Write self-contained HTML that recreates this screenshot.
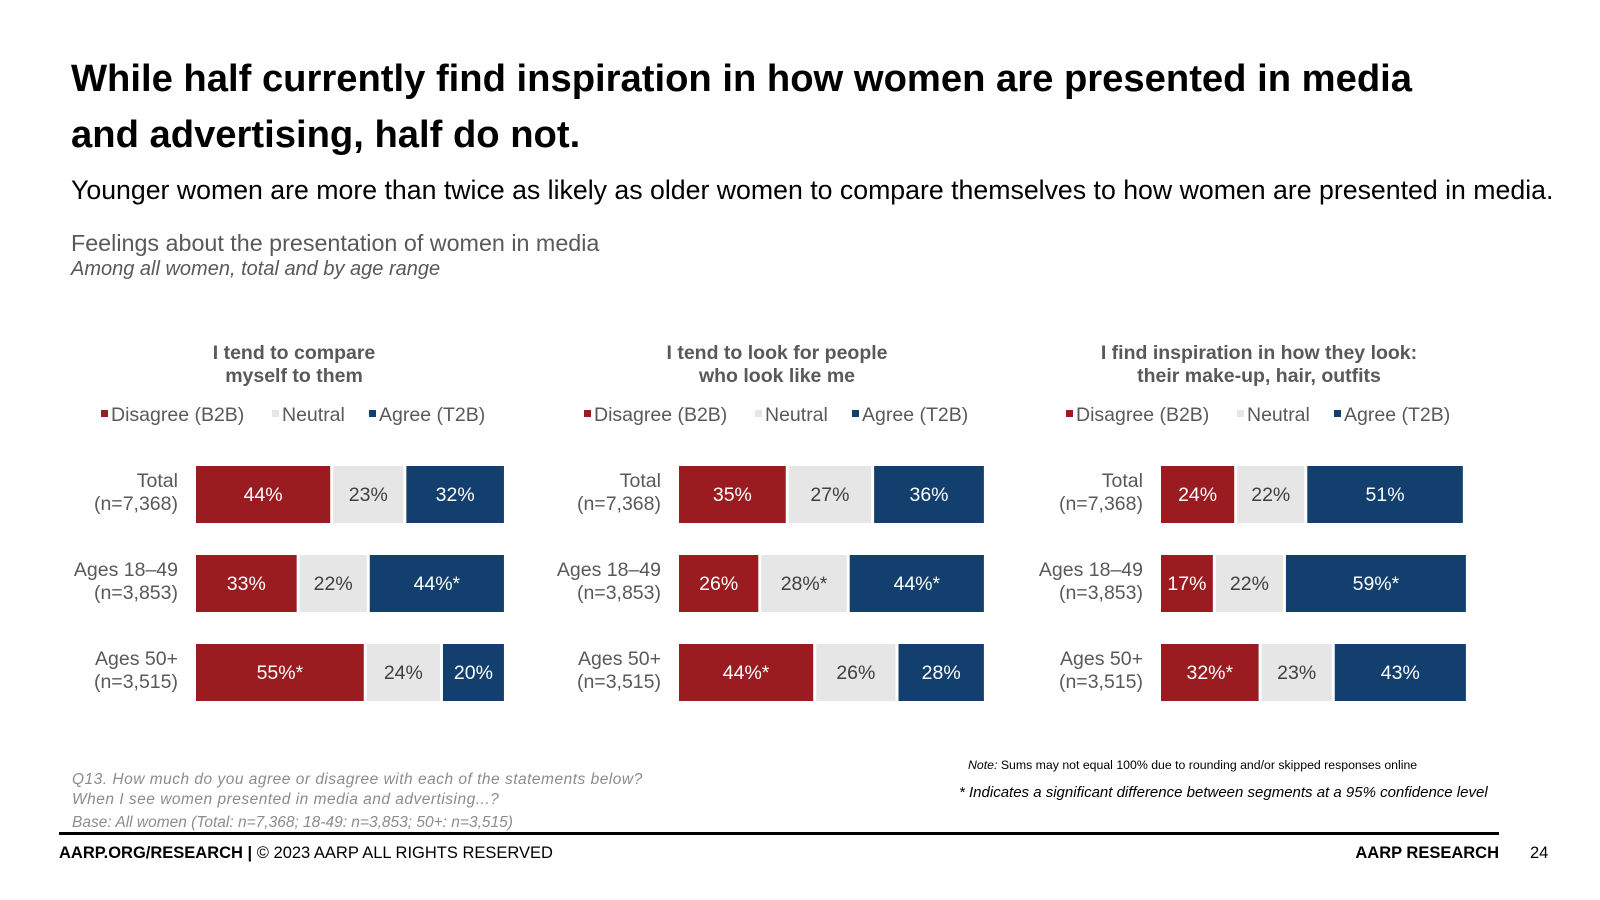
<!DOCTYPE html>
<html><head><meta charset="utf-8"><style>
body{margin:0;width:1600px;height:900px;background:#fff;font-family:"Liberation Sans",sans-serif;position:relative;overflow:hidden}
.a{position:absolute;white-space:nowrap}
</style></head><body>
<div class="a" style="left:71px;top:51px;font-size:38.2px;font-weight:bold;line-height:56px;color:#000">While half currently find inspiration in how women are presented in media<br>and advertising, half do not.</div>
<div class="a" style="left:71px;top:175px;font-size:26.7px;color:#000">Younger women are more than twice as likely as older women to compare themselves to how women are presented in media.</div>
<div class="a" style="left:71px;top:230px;font-size:23.3px;color:#595959">Feelings about the presentation of women in media</div>
<div class="a" style="left:71px;top:258px;font-size:20px;font-style:italic;color:#595959">Among all women, total and by age range</div>
<svg id="c" class="a" style="left:0;top:0" width="1600" height="900"></svg>
<div class="a" style="left:72px;top:770px;font-size:15.5px;font-style:italic;color:#8c8c8c;line-height:20px;letter-spacing:0.5px">Q13. How much do you agree or disagree with each of the statements below?<br>When I see women presented in media and advertising...?</div>
<div class="a" style="left:72px;top:814px;font-size:15.5px;font-style:italic;color:#8c8c8c">Base: All women (Total: n=7,368; 18-49: n=3,853; 50+: n=3,515)</div>
<div class="a" style="left:968px;top:758px;font-size:12.3px;color:#000"><i>Note:</i> Sums may not equal 100% due to rounding and/or skipped responses online</div>
<div class="a" style="left:959px;top:784px;font-size:15px;font-style:italic;color:#000">* Indicates a significant difference between segments at a 95% confidence level</div>
<div class="a" style="left:59px;top:832px;width:1440px;height:3px;background:#000"></div>
<div class="a" style="left:59px;top:844px;font-size:16.5px;color:#000"><b>AARP.ORG/RESEARCH |</b> © 2023 AARP ALL RIGHTS RESERVED</div>
<div class="a" style="right:101px;top:844px;font-size:16.5px;font-weight:bold;color:#000">AARP RESEARCH</div>
<div class="a" style="left:1530px;top:844px;font-size:16.5px;color:#000">24</div>
<script>
const panelTitles=[["I tend to compare","myself to them"],["I tend to look for people","who look like me"],["I find inspiration in how they look:","their make-up, hair, outfits"]];
const rowLabels=[["Total","(n=7,368)"],["Ages 18–49","(n=3,853)"],["Ages 50+","(n=3,515)"]];
const disagree=[[44,33,55],[35,26,44],[24,17,32]];
const neutral=[[23,22,24],[27,28,26],[22,22,23]];
const agree=[[32,44,20],[36,44,28],[51,59,43]];
const sig=[[["","",""],["","","*"],["*","",""]],[["","",""],["","*","*"],["*","",""]],[["","",""],["","","*"],["*","",""]]];
const svg=document.getElementById('c');const NS='http://www.w3.org/2000/svg';
function mk(t,a,txt){const e=document.createElementNS(NS,t);for(const k in a)e.setAttribute(k,a[k]);if(txt!==undefined)e.textContent=txt;svg.appendChild(e);return e;}
const px=3.05,gap=3,barH=57,rowY=[466,555,644],colors=["#9b1c20","#e6e6e6","#123f6e"],tcol=["#fff","#404040","#fff"];
const x0s=[196,679,1161];
const fs=19.5;
for(let p=0;p<3;p++){
 const x0=x0s[p],cx=x0+98;
 panelTitles[p].forEach((t,i)=>{const e=mk('text',{x:cx,y:359+i*23,'text-anchor':'middle','font-size':fs,'font-weight':'bold',fill:'#595959'},t);
 
 });
 const leg=[["Disagree (B2B)",x0-95],["Neutral",x0+76],["Agree (T2B)",x0+173]];
 leg.forEach((l,i)=>{const r=mk('rect',{x:l[1],y:410,width:7,height:7,fill:colors[i]});
 
 
 const t=mk('text',{x:l[1]+10,y:421,'font-size':fs,fill:'#595959'},l[0]);
 
 });
 for(let r=0;r<3;r++){
  const y=rowY[r];
  rowLabels[r].forEach((t,i)=>{const e=mk('text',{x:x0-18,y:y+21+i*23,'text-anchor':'end','font-size':fs,fill:'#595959'},t);
  
  });
  const vals=[disagree[p][r],neutral[p][r],agree[p][r]];let x=x0;
  vals.forEach((v,i)=>{const w=v*px;const b=mk('rect',{x:x,y:y,width:w,height:barH,fill:colors[i]});
  
  
  const t=mk('text',{x:x+w/2,y:y+35,'text-anchor':'middle','font-size':fs,fill:tcol[i]},v+'%'+sig[p][r][i]);
  
  
  x+=w+gap;});
 }
}
</script>
</body></html>
